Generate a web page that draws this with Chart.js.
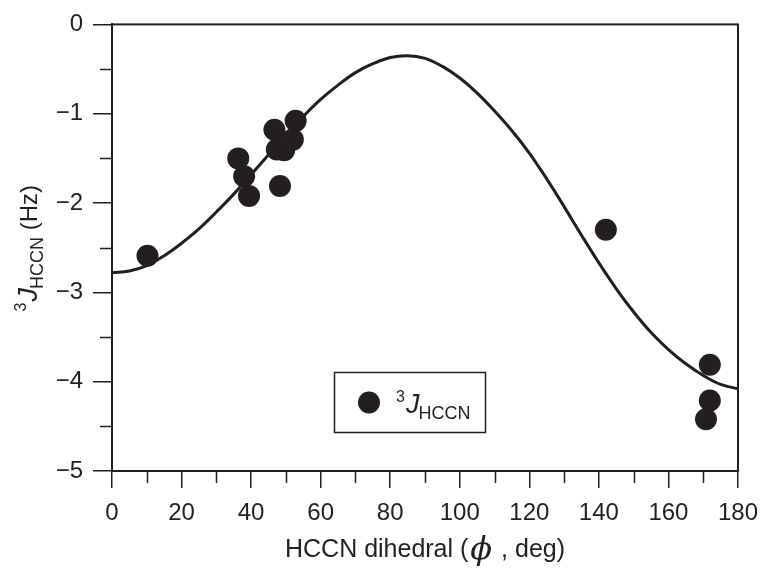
<!DOCTYPE html>
<html>
<head>
<meta charset="utf-8">
<script src="https://cdn.jsdelivr.net/npm/chart.js@4.4.1/dist/chart.umd.min.js"></script>
<style>
  html, body { margin: 0; padding: 0; background: #ffffff; }
  #wrap { width: 774px; height: 578px; }
</style>
</head>
<body>
<div id="wrap"><canvas id="c" width="774" height="578"></canvas></div>
<script>
// Measured couplings (points)
const angles    = [10.2, 36.3, 38.0, 39.4, 46.7, 47.4, 49.5, 52.0, 52.8, 48.3, 142.0, 171.9, 171.9, 170.8];
const couplings = [-2.59, -1.50, -1.70, -1.92, -1.18, -1.40, -1.41, -1.29, -1.08, -1.81, -2.30, -3.81, -4.21, -4.42];

// Fitted Karplus-type curve
const curveAngles = [0,5,10,15,20,25,30,35,40,45,50,55,60,65,70,75,80,85,90,95,100,105,110,115,120,125,130,135,140,145,150,155,160,165,170,175,180];
const curveValues = [-2.78,-2.76,-2.70,-2.59,-2.45,-2.29,-2.10,-1.90,-1.68,-1.46,-1.24,-1.03,-0.84,-0.68,-0.54,-0.44,-0.37,-0.35,-0.38,-0.47,-0.60,-0.77,-0.97,-1.19,-1.44,-1.73,-2.04,-2.36,-2.67,-2.96,-3.22,-3.45,-3.64,-3.80,-3.93,-4.03,-4.08];

const xTicks = [0,20,40,60,80,100,120,140,160,180];
const xMinorTicks = [10,30,50,70,90,110,130,150,170];
const yTicks = [0,-1,-2,-3,-4,-5];
const yMinorTicks = [-0.5,-1.5,-2.5,-3.5,-4.5];

const xTitleParts = ['HCCN dihedral (', 'ϕ', ' , deg)'];
const legendLabel = ['3', 'J', 'HCCN'];
const yTitleParts = ['3', 'J', 'HCCN', ' (Hz)'];

const INK = '#231f20';
const FONT = '"Liberation Sans", Arial, Helvetica, sans-serif';

const pointsData = angles.map((a, i) => ({ x: a, y: couplings[i] }));
const curveData = curveAngles.map((a, i) => ({ x: a, y: curveValues[i] }));

const decorPlugin = {
  id: 'decor',
  afterDraw(chart) {
    const ctx = chart.ctx;
    const ca = chart.chartArea;
    const xs = chart.scales.x, ys = chart.scales.y;
    ctx.save();
    ctx.strokeStyle = INK;
    // frame (top / right)
    ctx.lineWidth = 2;
    ctx.strokeRect(ca.left, ca.top, ca.right - ca.left, ca.bottom - ca.top);
    // minor ticks
    ctx.lineWidth = 1.5;
    ctx.beginPath();
    xMinorTicks.forEach(v => {
      const px = Math.round(xs.getPixelForValue(v)) + 0.5;
      ctx.moveTo(px, ca.bottom); ctx.lineTo(px, ca.bottom + 12);
    });
    yMinorTicks.forEach(v => {
      const py = Math.round(ys.getPixelForValue(v)) + 0.5;
      ctx.moveTo(ca.left, py); ctx.lineTo(ca.left - 12, py);
    });
    ctx.stroke();

    ctx.fillStyle = INK;
    ctx.textBaseline = 'alphabetic';
    // x-axis title
    const f1 = '25px ' + FONT, fphi = 'italic 32px "DejaVu Serif", "Liberation Serif", serif';
    ctx.font = f1; const w1 = ctx.measureText(xTitleParts[0]).width;
    ctx.font = fphi; const w2 = ctx.measureText(xTitleParts[1]).width;
    ctx.font = f1; const w3 = ctx.measureText(xTitleParts[2]).width;
    const total = w1 + w2 + w3 + 4;
    let tx = (ca.left + ca.right) / 2 - total / 2;
    const tb = 557;
    ctx.textAlign = 'left';
    ctx.font = f1; ctx.fillText(xTitleParts[0], tx, tb); tx += w1 + 2;
    ctx.font = fphi; ctx.fillText(xTitleParts[1], tx, tb + 2); tx += w2 + 2;
    ctx.font = f1; ctx.fillText(xTitleParts[2], tx, tb);

    // y-axis title (rotated)
    const fSup = '16px ' + FONT, fJ = 'italic 27px ' + FONT, fSub = '18px ' + FONT, fMain = '24px ' + FONT;
    ctx.font = fSup; const a1 = ctx.measureText(yTitleParts[0]).width;
    ctx.font = fJ; const a2 = ctx.measureText(yTitleParts[1]).width;
    ctx.font = fSub; const a3 = ctx.measureText(yTitleParts[2]).width;
    ctx.font = fMain; const a4 = ctx.measureText(yTitleParts[3]).width;
    const ytot = a1 + a2 + a3 + a4 + 1;
    ctx.save();
    ctx.translate(37, (ca.top + ca.bottom) / 2);
    ctx.rotate(-Math.PI / 2);
    let u = -ytot / 2;
    ctx.font = fSup; ctx.fillText(yTitleParts[0], u, -11); u += a1 + 1;
    ctx.font = fJ; ctx.fillText(yTitleParts[1], u, 0); u += a2 - 1;
    ctx.font = fSub; ctx.fillText(yTitleParts[2], u, 6); u += a3;
    ctx.font = fMain; ctx.fillText(yTitleParts[3], u, 0);
    ctx.restore();

    // legend box
    const lx = 334, ly = 372, lw = 151, lh = 60;
    ctx.lineWidth = 1.5;
    ctx.strokeRect(lx + 0.5, ly + 0.5, lw, lh);
    ctx.beginPath();
    ctx.arc(lx + 35, ly + 30.5, 11, 0, Math.PI * 2);
    ctx.fill();
    let lxp = lx + 62;
    const lb = ly + 41;
    ctx.font = fSup; ctx.fillText(legendLabel[0], lxp, lb - 11); lxp += ctx.measureText(legendLabel[0]).width + 1;
    ctx.font = fJ; ctx.fillText(legendLabel[1], lxp, lb); lxp += ctx.measureText(legendLabel[1]).width - 1;
    ctx.font = fSub; ctx.fillText(legendLabel[2], lxp, lb + 6);
    ctx.restore();
  }
};

new Chart(document.getElementById('c'), {
  type: 'scatter',
  data: {
    datasets: [
      {
        label: 'points',
        data: pointsData,
        backgroundColor: INK,
        borderColor: INK,
        pointRadius: 11,
        pointHoverRadius: 11,
        borderWidth: 0,
        showLine: false
      },
      {
        label: 'fit',
        data: curveData,
        showLine: true,
        borderColor: INK,
        borderWidth: 3,
        pointRadius: 0,
        tension: 0.4,
        fill: false
      }
    ]
  },
  options: {
    responsive: false,
    animation: false,
    events: [],
    layout: { padding: { left: 0, top: 23, right: 36, bottom: 0 } },
    plugins: { legend: { display: false }, tooltip: { enabled: false } },
    scales: {
      x: {
        type: 'linear', min: 0, max: 180,
        afterBuildTicks: s => { s.ticks = xTicks.map(v => ({ value: v })); },
        afterFit: s => { s.height = 107; },
        ticks: { color: INK, font: { family: FONT, size: 24 }, padding: 11, maxRotation: 0, autoSkip: false },
        grid: { drawOnChartArea: false, drawTicks: true, tickLength: 17, color: INK, lineWidth: 1.5 },
        border: { display: true, color: INK, width: 2 }
      },
      y: {
        type: 'linear', min: -5, max: 0,
        afterBuildTicks: s => { s.ticks = yTicks.map(v => ({ value: v })); },
        afterFit: s => { s.width = 112; },
        ticks: {
          color: INK, font: { family: FONT, size: 24 }, padding: 10, autoSkip: false,
          callback: v => (v < 0 ? '\u2212' + Math.abs(v) : String(v))
        },
        grid: { drawOnChartArea: false, drawTicks: true, tickLength: 19, color: INK, lineWidth: 1.5 },
        border: { display: true, color: INK, width: 2 }
      }
    }
  },
  plugins: [decorPlugin]
});
</script>
</body>
</html>
